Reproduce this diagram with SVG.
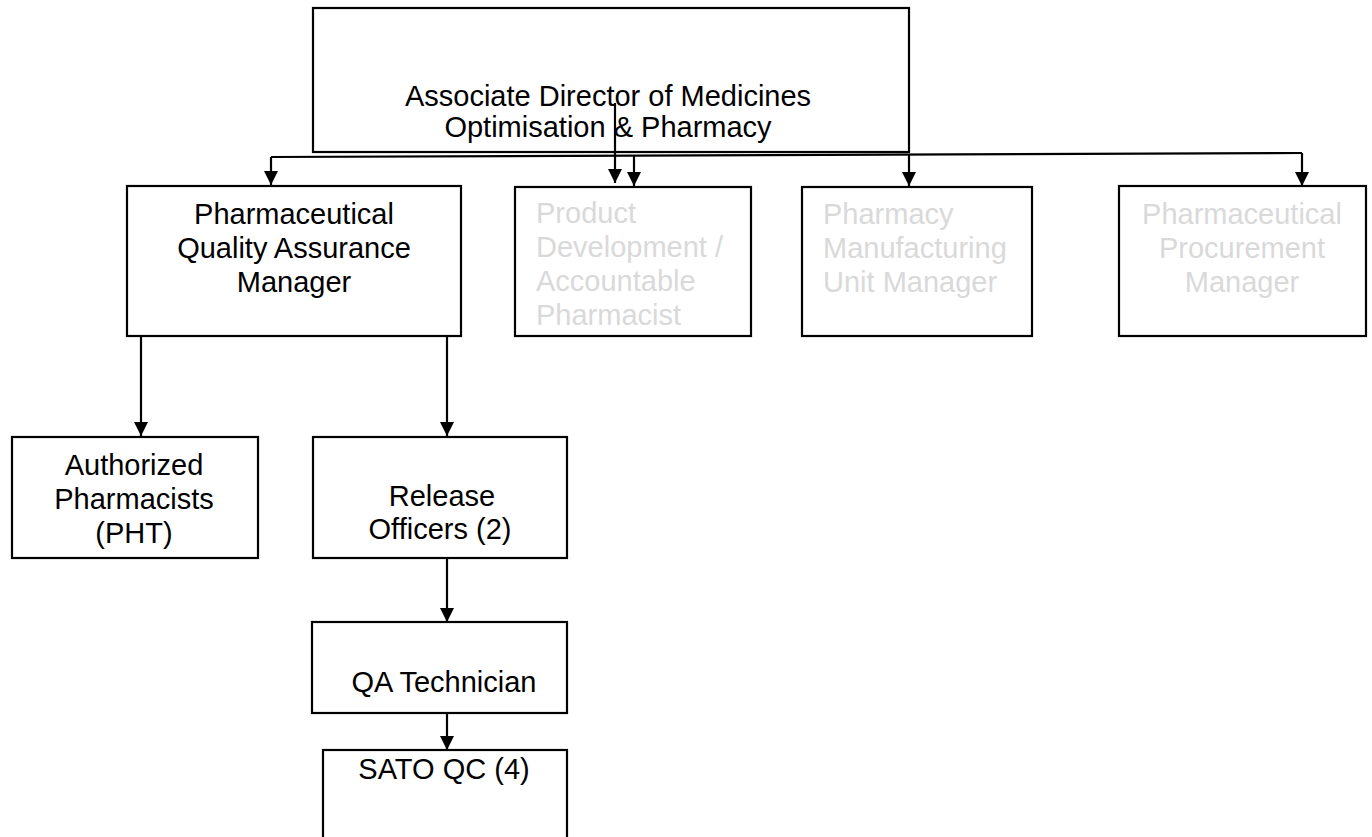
<svg xmlns="http://www.w3.org/2000/svg" width="1372" height="837" viewBox="0 0 1372 837">
  <defs>
    <marker id="arr" markerUnits="userSpaceOnUse" markerWidth="14" markerHeight="15" viewBox="0 0 14 15" refX="14" refY="7" orient="auto">
      <path d="M0,0 L14,7 L0,14 z" fill="#000"/>
    </marker>
    <style>
      .box { fill: #fff; stroke: #000; stroke-width: 2.2; }
      .t { font-family: "Liberation Sans", Arial, sans-serif; font-size: 29px; fill: #000; }
      .g { font-family: "Liberation Sans", Arial, sans-serif; font-size: 29px; fill: #d9d9d9; }
      .c { text-anchor: middle; }
      .ln { fill: none; stroke: #000; stroke-width: 2.2; }
      .ar { fill: none; stroke: #000; stroke-width: 2.2; marker-end: url(#arr); }
    </style>
  </defs>
  <rect width="1372" height="837" fill="#fff"/>

  <g id="director">
    <rect class="box" x="313" y="8" width="596" height="144"/>
    <text class="t c" x="608" y="106">Associate Director of Medicines</text>
    <text class="t c" x="608" y="137">Optimisation &amp; Pharmacy</text>
  </g>

  <g id="pqam">
    <rect class="box" x="127" y="186" width="334" height="150"/>
    <text class="t c" x="294" y="224">Pharmaceutical</text>
    <text class="t c" x="294" y="258">Quality Assurance</text>
    <text class="t c" x="294" y="292">Manager</text>
  </g>

  <g id="product">
    <rect class="box" x="515" y="187" width="236" height="149"/>
    <text class="g" x="536" y="223">Product</text>
    <text class="g" x="536" y="257">Development /</text>
    <text class="g" x="536" y="291">Accountable</text>
    <text class="g" x="536" y="325">Pharmacist</text>
  </g>

  <g id="manufacturing">
    <rect class="box" x="802" y="187" width="230" height="149"/>
    <text class="g" x="823" y="224">Pharmacy</text>
    <text class="g" x="823" y="258">Manufacturing</text>
    <text class="g" x="823" y="292">Unit Manager</text>
  </g>

  <g id="procurement">
    <rect class="box" x="1119" y="186" width="247" height="150"/>
    <text class="g c" x="1242" y="224">Pharmaceutical</text>
    <text class="g c" x="1242" y="258">Procurement</text>
    <text class="g c" x="1242" y="292">Manager</text>
  </g>

  <g id="authorized">
    <rect class="box" x="12" y="437" width="246" height="121"/>
    <text class="t c" x="134" y="475">Authorized</text>
    <text class="t c" x="134" y="509">Pharmacists</text>
    <text class="t c" x="134" y="543">(PHT)</text>
  </g>

  <g id="release">
    <rect class="box" x="313" y="437" width="254" height="121"/>
    <text class="t c" x="442" y="506">Release</text>
    <text class="t c" x="440" y="539">Officers (2)</text>
  </g>

  <g id="qa-technician">
    <rect class="box" x="312" y="622" width="255" height="91"/>
    <text class="t c" x="444" y="692">QA Technician</text>
  </g>

  <g id="sato">
    <rect class="box" x="323" y="750" width="244" height="100"/>
    <text class="t c" x="444" y="779">SATO QC (4)</text>
  </g>

  <g id="connectors">
    <path class="ln" d="M271,157 L1302,153"/>
    <path class="ar" d="M271,157 L271,185"/>
    <path class="ar" d="M615,103 L615,183"/>
    <path class="ar" d="M634,155.5 L634,186"/>
    <path class="ar" d="M909,154.5 L909,186"/>
    <path class="ar" d="M1302,153 L1302,186"/>
    <path class="ar" d="M141,336 L141,436"/>
    <path class="ar" d="M447,336 L447,436"/>
    <path class="ar" d="M447,558 L447,622"/>
    <path class="ar" d="M447,713 L447,750"/>
  </g>
</svg>
